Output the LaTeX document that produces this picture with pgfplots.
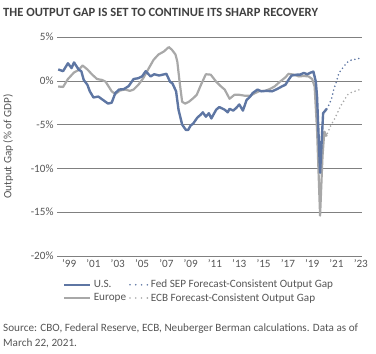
\documentclass[border=0pt]{standalone}
\usepackage{pgfplots}
\pgfplotsset{compat=1.18}
\usepackage{fontspec}
\setmainfont{Carlito}
\definecolor{usblue}{RGB}{94,118,163}
\definecolor{eugray}{RGB}{168,168,168}
\definecolor{gridgray}{RGB}{128,128,128}
\definecolor{txtgray}{RGB}{85,85,85}
\definecolor{titlegray}{RGB}{64,64,64}
\pgfplotsset{
  shortline/.style={legend image code/.code={\draw[##1] (0bp,0bp) -- (26bp,0bp);}},
  shortdots/.style={legend image code/.code={\draw[##1] (2bp,0bp) -- (20bp,0bp);}},
}
\begin{document}
\begin{tikzpicture}[x=1bp,y=1bp]
\useasboundingbox (0,0) rectangle (376,354);
\node[anchor=base west, inner sep=0pt, text=titlegray, font=\fontsize{12.6}{14}\selectfont\bfseries] at (3,338) {THE OUTPUT GAP IS SET TO CONTINUE ITS SHARP RECOVERY};
\begin{axis}[
  at={(57bp,98bp)}, anchor=south west,
  scale only axis, width=305bp, height=219bp,
  xmin=1998.0, xmax=2023.1, ymin=-20, ymax=5,
  clip=false,
  axis line style={draw=none}, tick style={draw=none},
  ytick={-20,-15,-10,-5,0,5},
  yticklabels={-20\%,-15\%,-10\%,-5\%,0\%,5\%},
  xtick={1999,2001,...,2023},
  xticklabels={’99,’01,’03,’05,’07,’09,’11,’13,’15,’17,’19,’21,’23},
  ymajorgrids, major grid style={draw=gridgray, line width=0.6pt},
  tick label style={font=\fontsize{11.2}{13}\selectfont, text=txtgray},
  ylabel={Output Gap (\% of GDP)},
  ylabel style={at={(axis description cs:-0.16,0.5)}, anchor=center, font=\fontsize{11.2}{13}\selectfont, text=txtgray},
  legend columns=2,
  legend style={draw=none, fill=none, inner sep=0pt, at={(axis description cs:0,0)}, anchor=north west, xshift=6bp, yshift=-22bp, font=\fontsize{11.2}{13}\selectfont, text=txtgray, row sep=0bp, /tikz/column 2/.style={column sep=12bp}, /tikz/every even column/.style={column sep=1bp}},
  legend cell align=left,
]
\addlegendimage{usblue, line width=2.6pt, shortline}
\addlegendimage{usblue, line width=1.8pt, line cap=round, dash pattern=on 0pt off 5.8bp, shortdots}
\addlegendimage{eugray, line width=2.6pt, shortline}
\addlegendimage{eugray, line width=1.8pt, line cap=round, dash pattern=on 0pt off 5.8bp, shortdots}
\legend{U.S., Fed SEP Forecast-Consistent Output Gap, Europe, ECB Forecast-Consistent Output Gap}
% Europe
\addplot[forget plot, eugray, line width=2.2pt, line join=round] coordinates {
(1998.1,-0.65) (1998.5,-0.7) (1998.9,0.2) (1999.4,0.95) (1999.8,1.25) (2000.1,1.75) (2000.5,1.3) (2000.9,0.7) (2001.3,0.2) (2001.7,0.1) (2002.0,-0.1) (2002.25,-0.65) (2002.5,-1.2) (2002.8,-1.5) (2003.2,-1.1) (2003.6,-1.0) (2004.0,-1.15) (2004.3,-1.0) (2004.7,-0.45) (2005.1,0.3) (2005.5,1.3) (2005.95,2.4) (2006.35,3.0) (2006.8,3.35) (2007.2,3.85) (2007.45,3.55) (2007.75,3.0) (2007.9,2.2) (2008.1,-0.25) (2008.3,-2.4) (2008.55,-2.6) (2008.85,-2.4) (2009.2,-2.0) (2009.5,-1.6) (2009.85,-0.45) (2010.25,0.75) (2010.65,0.7) (2011.1,-0.1) (2011.5,-0.65) (2011.8,-1.0) (2012.2,-2.05) (2012.6,-1.6) (2013.0,-1.6) (2013.45,-1.7) (2013.9,-1.7) (2014.3,-1.4) (2014.7,-1.15) (2015.1,-1.15) (2015.5,-0.95) (2015.9,-0.65) (2016.35,-0.1) (2016.8,0.4) (2017.05,0.8) (2017.5,0.7) (2017.9,0.5) (2018.3,0.55) (2018.7,0.5) (2019.0,0.2) (2019.2,-0.65) (2019.4,-5.6) (2019.65,-15.4) (2019.85,-8.6) (2020.0,-5.8) (2020.2,-6.35)
};
% ECB forecast
\addplot[forget plot, eugray, line width=1.8pt, line cap=round, dash pattern=on 0pt off 4bp] coordinates {
(2020.25,-6.0) (2020.5,-5.2) (2020.8,-4.45) (2021.1,-3.6) (2021.35,-2.85) (2021.65,-2.2) (2021.9,-1.6) (2022.2,-1.35) (2022.6,-1.15) (2023.1,-0.9)
};
% US
\addplot[forget plot, usblue, line width=2.4pt, line join=round] coordinates {
(1998.1,1.3) (1998.5,1.1) (1998.9,2.0) (1999.2,1.45) (1999.4,2.1) (1999.8,1.25) (2000.0,1.1) (2000.2,0.1) (2000.5,-0.45) (2000.7,-1.2) (2001.0,-1.9) (2001.4,-1.8) (2001.8,-2.2) (2002.2,-2.6) (2002.5,-2.5) (2002.8,-1.4) (2003.1,-1.0) (2003.5,-0.95) (2003.9,-0.6) (2004.3,0.2) (2004.7,0.3) (2005.0,0.5) (2005.3,1.1) (2005.7,0.5) (2006.0,0.75) (2006.4,0.6) (2007.0,0.8) (2007.3,-0.1) (2007.5,-0.3) (2007.8,-1.2) (2008.0,-3.3) (2008.3,-5.0) (2008.6,-5.6) (2008.8,-5.6) (2009.0,-5.1) (2009.2,-4.9) (2009.55,-4.2) (2009.8,-3.9) (2010.0,-3.6) (2010.25,-4.1) (2010.5,-3.7) (2010.7,-4.3) (2011.1,-3.3) (2011.35,-3.0) (2011.8,-3.3) (2012.05,-3.6) (2012.2,-3.2) (2012.5,-3.4) (2012.75,-3.1) (2013.0,-2.7) (2013.3,-3.4) (2013.6,-2.2) (2013.9,-1.8) (2014.1,-1.4) (2014.5,-1.0) (2014.8,-1.2) (2015.25,-1.15) (2015.7,-1.2) (2016.1,-0.95) (2016.5,-0.65) (2016.8,-0.45) (2017.05,0.1) (2017.3,0.6) (2017.75,0.7) (2018.0,0.7) (2018.3,0.9) (2018.6,0.75) (2018.9,0.95) (2019.1,1.05) (2019.3,-0.1) (2019.4,-1.8) (2019.65,-10.5) (2019.9,-3.7) (2020.2,-3.2)
};
% Fed SEP forecast
\addplot[forget plot, usblue, line width=1.8pt, line cap=round, dash pattern=on 0pt off 4bp] coordinates {
(2020.2,-3.2) (2020.4,-2.7) (2020.6,-2.0) (2020.8,-0.85) (2021.0,-0.1) (2021.2,0.9) (2021.5,1.45) (2021.8,2.0) (2022.05,2.3) (2022.3,2.4) (2022.75,2.5) (2023.1,2.7)
};
\end{axis}
\node[anchor=base west, inner sep=0pt, text=txtgray, font=\fontsize{11.2}{13}\selectfont] at (3,23) {Source: CBO, Federal Reserve, ECB, Neuberger Berman calculations. Data as of};
\node[anchor=base west, inner sep=0pt, text=txtgray, font=\fontsize{11.2}{13}\selectfont] at (3,8) {March 22, 2021.};
\end{tikzpicture}
\end{document}
